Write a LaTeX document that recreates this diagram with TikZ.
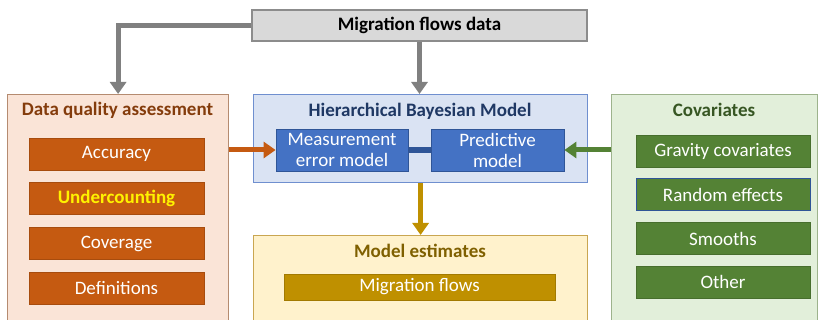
\documentclass[tikz,border=0pt]{standalone}
\usepackage{fontspec}
\setmainfont{Carlito}
\usetikzlibrary{arrows.meta,positioning}
\definecolor{topfill}{HTML}{D9D9D9}
\definecolor{topline}{HTML}{8C8C8C}
\definecolor{feedgray}{HTML}{808080}
\definecolor{dqafill}{HTML}{FAE4D7}
\definecolor{dqaline}{HTML}{B58B70}
\definecolor{dqatext}{HTML}{843C0C}
\definecolor{dqaitem}{HTML}{C55A11}
\definecolor{hbmfill}{HTML}{DAE3F3}
\definecolor{hbmline}{HTML}{6F8FCF}
\definecolor{hbmtext}{HTML}{1F3864}
\definecolor{hbmitem}{HTML}{4472C4}
\definecolor{hbmlink}{HTML}{2F5597}
\definecolor{estfill}{HTML}{FFF2CC}
\definecolor{estline}{HTML}{C9A651}
\definecolor{esttext}{HTML}{7F6000}
\definecolor{estitem}{HTML}{BF9000}
\definecolor{covfill}{HTML}{E2EFDA}
\definecolor{covline}{HTML}{9DB38C}
\definecolor{covtext}{HTML}{375623}
\definecolor{covitem}{HTML}{548235}

\begin{document}
\begin{tikzpicture}[
x=1pt, y=-1pt,
panel/.style={rectangle, draw, line width=1.2pt, anchor=north west, inner sep=0pt},
title/.style={font=\fontsize{19}{21}\selectfont\bfseries},
item/.style={rectangle, draw, line width=0.8pt, minimum width=175pt, minimum height=32pt, inner sep=0pt, text=white, align=center, font=\fontsize{19}{22}\selectfont},
flow/.style={-{Triangle[length=12pt, width=16pt]}, line width=5pt}
]
\useasboundingbox (0,0) rectangle (823,320);
\clip (0,0) rectangle (823,320);

% panels
\node (topdata) [panel, anchor=center, fill=topfill, draw=topline, minimum width=335pt, minimum height=31pt] at (419.5,25.5) {};
\node [title] at (topdata) {Migration flows data};
\node (dqa) [panel, fill=dqafill, draw=dqaline, minimum width=221pt, minimum height=250pt] at (7,94) {};
\node (hbm) [panel, fill=hbmfill, draw=hbmline, minimum width=334pt, minimum height=88pt] at (253,94) {};
\node (est) [panel, fill=estfill, draw=estline, minimum width=334pt, minimum height=100pt] at (253,235) {};
\node (cov) [panel, fill=covfill, draw=covline, minimum width=206pt, minimum height=250pt] at (611,94) {};

% titles
\node (dqatitle) [title, text=dqatext] at (117.5,110) {Data quality assessment};
\node (hbmtitle) [title, text=hbmtext] at (420,111) {Hierarchical Bayesian Model};
\node (esttitle) [title, text=esttext] at (420,251) {Model estimates};
\node (covtitle) [title, text=covtext] at (714,110) {Covariates};

% data quality items
\node (accuracy) [item, fill=dqaitem, draw=dqaitem!85!black] at (116.5,154) {Accuracy};
\node (under) [item, fill=dqaitem, draw=dqaitem!85!black, below=12pt of accuracy, text=yellow, font=\fontsize{19}{22}\selectfont\bfseries] {Undercounting};
\node (coverage) [item, fill=dqaitem, draw=dqaitem!85!black, below=12pt of under] {Coverage};
\node (definitions) [item, fill=dqaitem, draw=dqaitem!85!black, below=12pt of coverage] {Definitions};

% model parts
\node (meas) [item, fill=hbmitem, draw=hbmlink, minimum width=132pt, minimum height=42pt, font=\fontsize{19}{21}\selectfont] at (342,150) {Measurement\\error model};
\node (pred) [item, fill=hbmitem, draw=hbmlink, minimum width=133pt, minimum height=42pt, font=\fontsize{19}{21}\selectfont] at (497.5,150) {Predictive\\model};

% estimates
\node (flows) [item, fill=estitem, draw=estitem!85!black, minimum width=271pt, minimum height=26pt] at (419.5,287) {Migration flows};

% covariates
\node (gravity) [item, fill=covitem, draw=covitem!85!black, minimum width=174pt] at (723,151) {Gravity covariates};
\node (random) [item, fill=covitem, draw=hbmlink, minimum width=174pt, below=11pt of gravity] {Random effects};
\node (smooths) [item, fill=covitem, draw=covitem!85!black, minimum width=174pt, below=11pt of random] {Smooths};
\node (other) [item, fill=covitem, draw=covitem!85!black, minimum width=174pt, below=11pt of smooths] {Other};

% connectors
\draw [flow, feedgray] (topdata.west) -| (dqa.north);
\draw [flow, feedgray] (topdata.south) -- (topdata.south |- hbm.north);
\draw [flow, dqaitem] (dqa.east |- meas) -- (meas.west);
\draw [flow, covitem] (cov.west |- pred) -- (pred.east);
\draw [line width=6pt, hbmlink] (meas.east) -- (pred.west);
\draw [flow, estitem] (hbm.south) -- (est.north);
\end{tikzpicture}
\end{document}
